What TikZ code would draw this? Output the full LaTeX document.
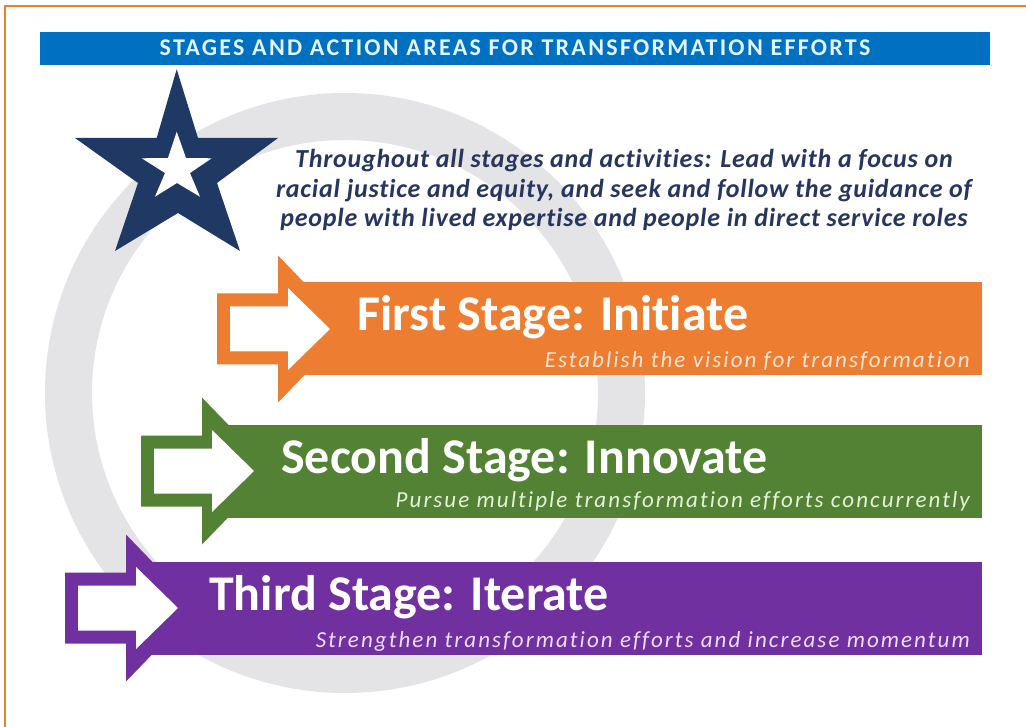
\documentclass[tikz,border=0pt]{standalone}
\usepackage{fontspec}
\setmainfont[Ligatures=NoCommon]{Carlito}
\newfontfamily\titlefont[LetterSpace=9.5,Ligatures=NoCommon]{Carlito}
\newfontfamily\leadfont[LetterSpace=3,Ligatures=NoCommon]{Carlito}
\newfontfamily\subfont[LetterSpace=9,Ligatures=NoCommon]{Carlito}
\definecolor{stageorange}{HTML}{ED7D31}
\definecolor{stagegreen}{HTML}{548235}
\definecolor{stagepurple}{HTML}{7030A0}
\definecolor{navystar}{HTML}{1F3864}
\definecolor{navytext}{HTML}{26365E}
\definecolor{titleblue}{HTML}{0070C0}
\definecolor{titletext}{HTML}{E2F4FF}
\definecolor{ringgrey}{HTML}{E4E4E7}
\definecolor{subpeach}{HTML}{FBE3D3}
\definecolor{subgreen}{HTML}{E3F2D8}
\definecolor{sublilac}{HTML}{EBDDF7}
\newcommand\StageShape[3]{%
  \begin{scope}[shift={(#1,#2)}]
    \fill[#3] (85,-46.5) rectangle (982-#1,46.5);
    \fill[#3] (0,-35.5) -- (61,-35.5) -- (61,-73.5) -- (132,0) -- (61,73.5) -- (61,35.5) -- (0,35.5) -- cycle;
    \fill[white] (13,-22.5) -- (71,-22.5) -- (71,-41) -- (113,0) -- (71,41) -- (71,22.5) -- (13,22.5) -- cycle;
  \end{scope}}
\tikzset{
  stagetitle/.style={anchor=base west, inner sep=0pt, text=white, font=\fontsize{50}{50}\selectfont\bfseries},
  stagesub/.style={anchor=base east, inner sep=0pt, font=\subfont\fontsize{23}{23}\selectfont\itshape},
  leadtext/.style={anchor=base, inner sep=0pt, text=navytext, font=\leadfont\fontsize{26}{26}\selectfont\bfseries\itshape},
}
\begin{document}
\begin{tikzpicture}[x=1pt,y=-1pt]
\useasboundingbox (0,0) rectangle (1026,727);
\fill[white] (0,0) rectangle (1026,727);
% grey ring
\fill[ringgrey, even odd rule] (345,393) circle (300pt) (345,393) circle (253pt);
% border
\draw[stageorange, line width=2.5pt] (5,727) -- (5,6) -- (1026,6);
% title bar
\fill[titleblue] (40,32) rectangle (990,65);
\node[anchor=base, inner sep=0pt, text=titletext, font=\titlefont\fontsize{24}{24}\selectfont\bfseries] (title) at (515,56) {STAGES AND ACTION AREAS FOR TRANSFORMATION EFFORTS};
% star
\fill[navystar] (176.7,69.3) -- (198,138) -- (278,138) -- (217,183) -- (240,251) -- (178,213) -- (115,251) -- (138,183) -- (75,138) -- (156.7,138) -- cycle;
\fill[white] (176.7,131.7) -- (186,158) -- (211.7,158.3) -- (190,173) -- (200,196.7) -- (177,183) -- (155,196.7) -- (165,173) -- (141.7,158.3) -- (168,158) -- cycle;
% lead text
\node[leadtext] (lead1) at (624,168) {Throughout all stages and activities: Lead with a focus on};
\node[leadtext] (lead2) at (624,198) {racial justice and equity, and seek and follow the guidance of};
\node[leadtext] (lead3) at (624,227) {people with lived expertise and people in direct service roles};
% stages
\StageShape{217}{329}{stageorange}
\StageShape{141}{471}{stagegreen}
\StageShape{65}{608}{stagepurple}
\node[stagetitle] (first) at (357,331) {First Stage: Initiate};
\node[stagesub, text=subpeach] (firstsub) at (970,368) {Establish the vision for transformation};
\node[stagetitle] (second) at (281,473) {Second Stage: Innovate};
\node[stagesub, text=subgreen] (secondsub) at (970,507) {Pursue multiple transformation efforts concurrently};
\node[stagetitle] (third) at (209,610) {Third Stage: Iterate};
\node[stagesub, text=sublilac] (thirdsub) at (970,647) {Strengthen transformation efforts and increase momentum};
\end{tikzpicture}
\end{document}
